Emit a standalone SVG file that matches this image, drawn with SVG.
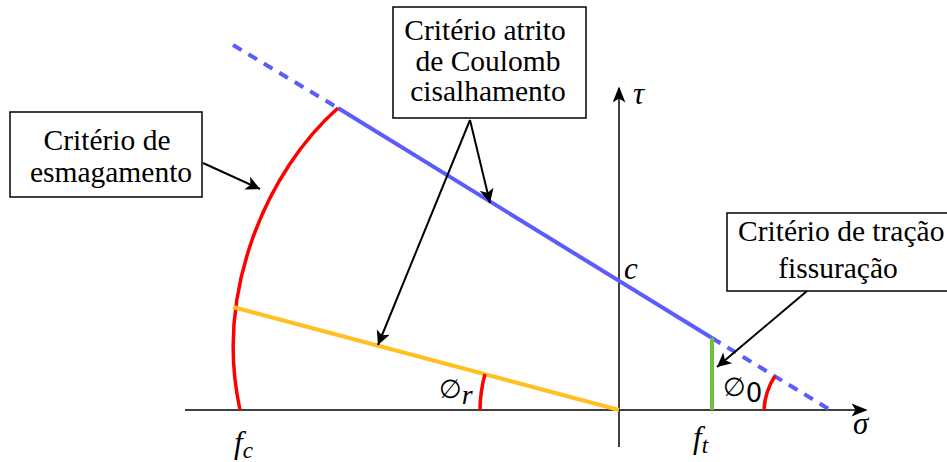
<svg xmlns="http://www.w3.org/2000/svg" width="947" height="462" viewBox="0 0 947 462">
<defs>
<marker id="ah2" viewBox="0 0 10 10" refX="10" refY="5" markerWidth="18" markerHeight="14" markerUnits="userSpaceOnUse" orient="auto"><path d="M0,0 L10,5 L0,10 L2.5,5 z" fill="#000"/></marker>
<marker id="ah3" viewBox="0 0 10 10" refX="9" refY="5" markerWidth="20" markerHeight="16" markerUnits="userSpaceOnUse" orient="auto"><path d="M0,1 L10,5 L0,9 L2.5,5 z" fill="#000"/></marker>
</defs>
<style>
.box{fill:#fff;stroke:#000;stroke-width:1.5}
.t{font-size:29.5px;fill:#000}
.m{font-style:italic;font-size:31px;fill:#000}
.phi{font-size:26px;fill:#000}
.ax{stroke:#000;stroke-width:1.5;fill:none}
.ar{stroke:#000;stroke-width:2;fill:none;marker-end:url(#ah2)}
.blue{stroke:#5b5bff;stroke-width:4;fill:none}
</style>
<rect width="947" height="462" fill="#fff"/>
<g id="axes">
<line class="ax" x1="185" y1="410" x2="866" y2="410" marker-end="url(#ah3)"/>
<line class="ax" x1="619" y1="447" x2="619" y2="88" marker-end="url(#ah3)"/>
</g>
<g id="curves">
<line class="blue" x1="233" y1="45" x2="338" y2="108" stroke-dasharray="10,8"/>
<line class="blue" x1="338" y1="108" x2="712" y2="338"/>
<line class="blue" x1="712" y1="338" x2="832" y2="411" stroke-dasharray="10,8"/>
<path d="M338,108 C268,170 214,290 240,410" fill="none" stroke="#ff0000" stroke-width="3.5"/>
<line x1="233" y1="307" x2="619" y2="410" stroke="#ffc020" stroke-width="4"/>
<line x1="712" y1="338" x2="712" y2="410" stroke="#70c040" stroke-width="4"/>
<path d="M480,410 A139,139 0 0 1 485,374" fill="none" stroke="#ff0000" stroke-width="3.5"/>
<path d="M764,410 A68,68 0 0 1 775,376" fill="none" stroke="#ff0000" stroke-width="3.5"/>
</g>
<g id="labels" font-family="Liberation Serif, serif">
<text class="m" x="633" y="104">τ</text>
<text class="m" x="624" y="279">c</text>
<text class="m" x="853" y="434">σ</text>
<text class="m" x="234" y="453">f<tspan font-size="23" dy="5">c</tspan></text>
<text class="m" x="693" y="448">f<tspan font-size="23" dy="5">t</tspan></text>
<text class="phi" x="439" y="398" font-family="DejaVu Sans, sans-serif">∅<tspan font-family="Liberation Serif, serif" font-style="italic" font-size="28" dy="6">r</tspan></text>
<text class="phi" x="723" y="396" font-family="DejaVu Sans, sans-serif">∅<tspan font-size="26" dy="6">0</tspan></text>
</g>
<g id="node-coulomb" font-family="Liberation Serif, serif">
<rect class="box" x="393" y="7" width="193" height="111"/>
<text class="t" x="485" y="40" text-anchor="middle">Critério atrito</text>
<text class="t" x="488" y="71" text-anchor="middle">de Coulomb</text>
<text class="t" x="488" y="101" text-anchor="middle">cisalhamento</text>
</g>
<g id="node-esmagamento" font-family="Liberation Serif, serif">
<rect class="box" x="10" y="112" width="192" height="85"/>
<text class="t" x="107" y="150" text-anchor="middle">Critério de</text>
<text class="t" x="111" y="182" text-anchor="middle">esmagamento</text>
</g>
<g id="node-tracao" font-family="Liberation Serif, serif">
<rect class="box" x="727" y="213" width="230" height="78"/>
<text class="t" x="738" y="241">Critério de tração</text>
<text class="t" x="838" y="278" text-anchor="middle">fissuração</text>
</g>
<g id="connectors">
<line class="ar" x1="203" y1="163" x2="260" y2="189"/>
<line class="ar" x1="470" y1="120" x2="490" y2="203"/>
<line class="ar" x1="470" y1="120" x2="378" y2="345"/>
<line class="ar" x1="807" y1="291" x2="717" y2="367"/>
</g>
</svg>
